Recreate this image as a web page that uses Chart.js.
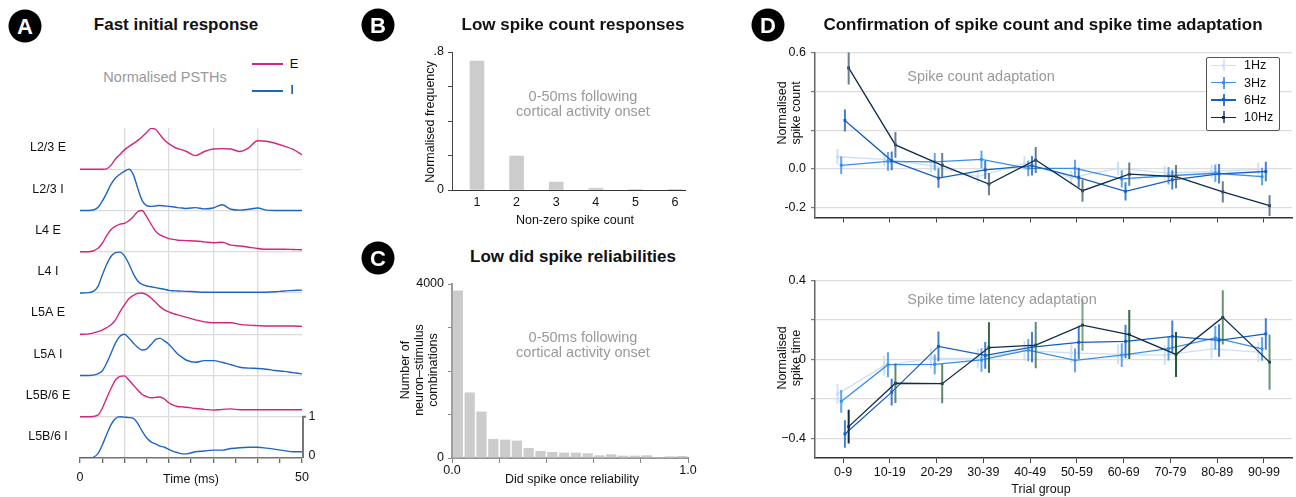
<!DOCTYPE html>
<html>
<head>
<meta charset="utf-8">
<script src="https://cdn.jsdelivr.net/npm/chart.js@4.4.1/dist/chart.umd.min.js"></script>
<style>
body { margin: 0; background: #fff; font-family: "Liberation Sans", Arial, sans-serif; }
#fig { position: relative; width: 1296px; height: 497px; overflow: hidden; }
canvas { position: absolute; }
.t { position: absolute; transform: translate(-50%, -50%); white-space: nowrap; font-size: 12.5px; color: #111; line-height: 14px; }
.h { font-weight: bold; font-size: 17px; }
.g { color: #999; font-size: 14.5px; text-align: center; line-height: 14.5px; }
.r { transform: translate(-50%, -50%) rotate(-90deg); text-align: center; line-height: 14px; }
.c { position: absolute; width: 33px; height: 33px; border-radius: 50%; background: #000; color: #fff;
     font-weight: bold; font-size: 22px; display: flex; align-items: center; justify-content: center;
     transform: translate(-50%, -50%); }
.ln { position: absolute; height: 2px; }
#legD { position: absolute; left: 1206px; top: 57px; width: 72px; height: 72px; border: 1px solid #555;
        border-radius: 2px; background: #fff; }
.lrow { position: absolute; left: 0; width: 100%; height: 0; }
.ll { position: absolute; left: 4px; top: -0.7px; width: 25px; height: 1.4px; }
.le { position: absolute; left: 15.5px; top: -6px; width: 2px; height: 12px; }
.ld { position: absolute; left: 15px; top: -1.5px; width: 3px; height: 3px; }
.lt { position: absolute; left: 37px; top: -8px; font-size: 12.5px; line-height: 16px; color: #111; }
</style>
</head>
<body>
<div id="fig">
  <canvas id="chartA" width="320" height="387" style="left:0px;top:110px"></canvas>
  <canvas id="chartB" width="345" height="195" style="left:355px;top:40px"></canvas>
  <canvas id="chartC" width="345" height="227" style="left:355px;top:270px"></canvas>
  <canvas id="chartD1" width="536" height="190" style="left:760px;top:40px"></canvas>
  <canvas id="chartD2" width="536" height="229" style="left:760px;top:268px"></canvas>

  <div class="c" style="left:25px;top:26px">A</div>
  <div class="c" style="left:378px;top:25px">B</div>
  <div class="c" style="left:378px;top:258px">C</div>
  <div class="c" style="left:768px;top:25px">D</div>

  <div class="t h" style="left:176px;top:25px">Fast initial response</div>
  <div class="t h" style="left:573px;top:25px">Low spike count responses</div>
  <div class="t h" style="left:573px;top:257px">Low did spike reliabilities</div>
  <div class="t h" style="left:1043px;top:25px">Confirmation of spike count and spike time adaptation</div>

  <div class="t g" style="left:165px;top:77px">Normalised PSTHs</div>
  <div class="ln" style="left:252px;top:63px;width:31px;background:#d4247e"></div>
  <div class="ln" style="left:252px;top:89.5px;width:31px;background:#1f66c4"></div>
  <div class="t" style="left:294px;top:64px;font-size:13px">E</div>
  <div class="t" style="left:292px;top:90px;font-size:13px">I</div>
  <div class="t" style="left:191px;top:479px">Time (ms)</div>

  <div class="t r" style="left:430px;top:122px">Normalised frequency</div>
  <div class="t" style="left:575px;top:220px">Non-zero spike count</div>
  <div class="t g" style="left:583px;top:103px">0-50ms following<br>cortical activity onset</div>

  <div class="t r" style="left:419px;top:370px">Number of<br>neuron–stimulus<br>combinations</div>
  <div class="t" style="left:572px;top:479px">Did spike once reliability</div>
  <div class="t g" style="left:583px;top:344px">0-50ms following<br>cortical activity onset</div>

  <div class="t r" style="left:789px;top:113px">Normalised<br>spike count</div>
  <div class="t g" style="left:981px;top:76px">Spike count adaptation</div>
  <div class="t r" style="left:789px;top:358px">Normalised<br>spike time</div>
  <div class="t g" style="left:1002px;top:299px">Spike time latency adaptation</div>
  <div class="t" style="left:1041px;top:489px">Trial group</div>

  <div id="legD"></div>
</div>

<script>
// ---- A: normalised PSTHs ----
const timeMs = [0, 2, 4, 5, 6, 7, 8, 9, 10, 11, 12, 13, 14, 15, 16, 17, 18, 19, 20, 21, 22, 23, 24,
  26, 28, 30, 32, 34, 36, 38, 40, 42, 44, 46, 48, 50];
const layerNames = ['L2/3 E', 'L2/3 I', 'L4 E', 'L4 I', 'L5A E', 'L5A I', 'L5B/6 E', 'L5B/6 I'];
const layerTypes = ['E', 'I', 'E', 'I', 'E', 'I', 'E', 'I'];
const psthL23E = [0, 0, 0, 0, 0.01, 0.1, 0.25, 0.36, 0.47, 0.55, 0.62, 0.70, 0.79, 0.89, 0.99, 0.97, 0.84, 0.71,
  0.62, 0.55, 0.50, 0.47, 0.43, 0.33, 0.43, 0.49, 0.50, 0.49, 0.43, 0.52, 0.69, 0.68, 0.63, 0.56, 0.48, 0.35];
const psthL23I = [0, 0, 0.07, 0.22, 0.42, 0.64, 0.79, 0.88, 0.95, 1.0, 0.87, 0.54, 0.24, 0.12, 0.10, 0.11, 0.12, 0.11,
  0.10, 0.09, 0.07, 0.06, 0.05, 0.07, 0.04, 0.06, 0.14, 0.03, 0.01, 0.03, 0.06, 0.01, 0, 0, 0, 0];
const psthL4E = [0, 0, 0.08, 0.2, 0.39, 0.54, 0.62, 0.67, 0.69, 0.75, 0.85, 0.97, 1.0, 0.85, 0.67, 0.5, 0.41, 0.36,
  0.32, 0.30, 0.28, 0.275, 0.27, 0.26, 0.24, 0.22, 0.23, 0.16, 0.14, 0.11, 0.08, 0.06, 0.06, 0.06, 0.055, 0.05];
const psthL4I = [0, 0.01, 0.15, 0.43, 0.69, 0.89, 0.98, 0.99, 0.90, 0.71, 0.47, 0.29, 0.21, 0.17, 0.15, 0.13, 0.11, 0.09,
  0.065, 0.055, 0.05, 0.045, 0.04, 0.03, 0.02, 0.02, 0.02, 0.02, 0.02, 0.02, 0.02, 0.02, 0.03, 0.05, 0.06, 0.07];
const psthL5AE = [0, 0.01, 0.065, 0.1, 0.16, 0.23, 0.35, 0.54, 0.71, 0.86, 0.94, 0.99, 1.0, 0.96, 0.88, 0.78, 0.67, 0.59,
  0.54, 0.50, 0.47, 0.44, 0.41, 0.35, 0.30, 0.28, 0.28, 0.28, 0.24, 0.22, 0.21, 0.2, 0.2, 0.2, 0.2, 0.19];
const psthL5AI = [0, 0, 0.04, 0.11, 0.3, 0.54, 0.79, 0.95, 1.0, 0.91, 0.79, 0.68, 0.62, 0.64, 0.75, 0.87, 0.9, 0.84,
  0.76, 0.64, 0.52, 0.44, 0.37, 0.32, 0.36, 0.36, 0.32, 0.26, 0.2, 0.18, 0.17, 0.15, 0.12, 0.1, 0.07, 0.04];
const psthL5B6E = [0, 0, 0.04, 0.2, 0.45, 0.69, 0.89, 0.98, 0.99, 0.89, 0.77, 0.65, 0.54, 0.49, 0.46, 0.47, 0.48, 0.43,
  0.34, 0.28, 0.25, 0.24, 0.23, 0.2, 0.18, 0.16, 0.18, 0.19, 0.17, 0.17, 0.17, 0.17, 0.17, 0.17, 0.17, 0.17];
const psthL5B6I = [0, 0, 0.1, 0.31, 0.57, 0.81, 0.96, 1.0, 0.99, 0.98, 0.96, 0.84, 0.65, 0.49, 0.39, 0.34, 0.29, 0.26,
  0.21, 0.16, 0.13, 0.1, 0.1, 0.15, 0.17, 0.19, 0.19, 0.23, 0.25, 0.26, 0.26, 0.24, 0.21, 0.18, 0.15, 0.15];
const psth = [psthL23E, psthL23I, psthL4E, psthL4I, psthL5AE, psthL5AI, psthL5B6E, psthL5B6I];
const timeTicks = [0, 5, 10, 15, 20, 25, 30, 35, 40, 45, 50];

// ---- B: spike count histogram ----
const spikeCounts = [1, 2, 3, 4, 5, 6];
const countFreq = [0.748, 0.197, 0.046, 0.01, 0.003, 0.002];

// ---- C: did-spike reliability histogram ----
const binCentres = [0.025, 0.075, 0.125, 0.175, 0.225, 0.275, 0.325, 0.375, 0.425, 0.475,
  0.525, 0.575, 0.625, 0.675, 0.725, 0.775, 0.825, 0.875, 0.925, 0.975];
const binCounts = [3850, 1507, 1069, 438, 423, 400, 231, 162, 138, 123,
  123, 108, 62, 85, 54, 54, 62, 23, 38, 46];

// ---- D: adaptation across trial groups ----
const trialGroups = ['0-9', '10-19', '20-29', '30-39', '40-49', '50-59', '60-69', '70-79', '80-89', '90-99'];
const freqLabels = ['1Hz', '3Hz', '6Hz', '10Hz'];
const count1Hz = [0.063, 0.049, 0.017, -0.039, 0.029, -0.044, 0.003, -0.02, -0.013, -0.002];
const count3Hz = [0.019, 0.039, 0.037, 0.049, 0.003, 0.003, -0.051, -0.035, -0.022, -0.039];
const count6Hz = [0.25, 0.042, -0.047, -0.005, 0.017, -0.044, -0.115, -0.056, -0.025, -0.013];
const count10Hz = [0.521, 0.124, 0.019, -0.078, 0.046, -0.112, -0.027, -0.039, -0.118, -0.189];
const countErr1Hz = [0.04, 0.035, 0.035, 0.035, 0.035, 0.035, 0.035, 0.035, 0.035, 0.035];
const countErr3Hz = [0.045, 0.048, 0.045, 0.045, 0.04, 0.045, 0.045, 0.045, 0.045, 0.045];
const countErr6Hz = [0.057, 0.048, 0.05, 0.047, 0.05, 0.05, 0.047, 0.05, 0.05, 0.05];
const countErr10Hz = [0.086, 0.066, 0.063, 0.057, 0.067, 0.057, 0.06, 0.06, 0.055, 0.053];
const time1Hz = [-0.176, -0.032, 0.005, 0.005, 0.045, 0.033, 0.025, 0.022, 0.053, 0.037];
const time3Hz = [-0.213, -0.027, -0.025, -0.003, 0.047, -0.005, 0.022, 0.055, 0.109, 0.053];
const time6Hz = [-0.378, -0.166, 0.066, 0.02, 0.062, 0.086, 0.091, 0.117, 0.096, 0.129];
const time10Hz = [-0.341, -0.121, -0.123, 0.060, 0.072, 0.174, 0.126, 0.025, 0.213, -0.014];
const timeErr1Hz = [0.05, 0.05, 0.05, 0.05, 0.05, 0.05, 0.05, 0.05, 0.05, 0.05];
const timeErr3Hz = [0.058, 0.063, 0.05, 0.06, 0.056, 0.06, 0.06, 0.06, 0.06, 0.06];
const timeErr6Hz = [0.07, 0.068, 0.075, 0.068, 0.077, 0.084, 0.085, 0.08, 0.082, 0.08];
const timeErr10Hz = [0.086, 0.1, 0.1, 0.128, 0.117, 0.13, 0.124, 0.114, 0.137, 0.14];

const pink = '#d4247e';
const blue = '#1f66c4';
const freqColors = ['#cde0f5', '#3b8ee8', '#145fc2', '#102a4c'];
const countErrColors = ['rgba(200,222,246,0.9)', 'rgba(59,142,232,0.8)', 'rgba(20,95,194,0.8)', 'rgba(70,92,118,0.8)'];
const timeErrColors = ['rgba(200,222,246,0.9)', 'rgba(59,142,232,0.8)', 'rgba(20,95,194,0.8)',
  ['#102a4c', 'rgba(40,100,60,0.75)', 'rgba(40,100,60,0.75)', 'rgba(20,80,40,0.85)', 'rgba(40,100,60,0.75)',
   'rgba(40,100,60,0.6)', 'rgba(20,80,40,0.85)', 'rgba(20,80,40,0.95)', 'rgba(40,100,60,0.7)', 'rgba(40,100,60,0.7)']];
const dodge = [-0.12, -0.04, 0.04, 0.12];

Chart.defaults.font.family = '"Liberation Sans", Arial, sans-serif';
Chart.defaults.font.size = 12.5;
Chart.defaults.color = '#111';
Chart.defaults.animation = false;
Chart.defaults.responsive = false;
Chart.defaults.plugins.legend.display = false;
Chart.defaults.plugins.tooltip.enabled = false;

function fixTicks(values) { return function (scale) { scale.ticks = values.map(v => ({ value: v })); }; }
function fixHeight(h) { return function (s) { s.height = h; }; }
function fixWidth(w) { return function (s) { s.width = w; }; }
function only(map) {
  return function (v) {
    for (const k in map) if (Math.abs(v - Number(k)) < 1e-9) return map[k];
    return '';
  };
}
const clear = 'rgba(0,0,0,0)';

// row labels and the 0-1 scale bar of panel A
const psthExtras = {
  id: 'psthExtras',
  afterDraw(chart) {
    const { ctx, chartArea } = chart;
    const y = chart.scales.y;
    ctx.save();
    ctx.font = '12.5px "Liberation Sans", Arial, sans-serif';
    ctx.fillStyle = '#111';
    ctx.textAlign = 'center';
    ctx.textBaseline = 'middle';
    layerNames.forEach((name, i) => {
      const base = layerNames.length - 1 - i;
      ctx.fillText(name, chartArea.left - 32, y.getPixelForValue(base + 0.52));
    });
    const x = chartArea.right + 1;
    ctx.strokeStyle = '#777';
    ctx.lineWidth = 2;
    ctx.beginPath();
    ctx.moveTo(x, y.getPixelForValue(0));
    ctx.lineTo(x, y.getPixelForValue(1));
    ctx.lineTo(x + 3, y.getPixelForValue(1));
    ctx.stroke();
    ctx.fillText('1', x + 9, y.getPixelForValue(1));
    ctx.fillText('0', x + 9, y.getPixelForValue(0) - 2);
    ctx.restore();
  }
};

// vertical error bars, drawn right after their own dataset
const errorBars = {
  id: 'errorBars',
  afterDatasetDraw(chart, args) {
    const ds = chart.data.datasets[args.index];
    if (!ds.errors) return;
    const { ctx, chartArea } = chart;
    const y = chart.scales.y;
    ctx.save();
    ctx.beginPath();
    ctx.rect(chartArea.left, chartArea.top, chartArea.right - chartArea.left, chartArea.bottom - chartArea.top);
    ctx.clip();
    ctx.lineWidth = 2;
    args.meta.data.forEach((pt, j) => {
      const v = ds.data[j].y, e = ds.errors[j];
      ctx.strokeStyle = Array.isArray(ds.errorColor) ? ds.errorColor[j] : ds.errorColor;
      ctx.beginPath();
      ctx.moveTo(pt.x, y.getPixelForValue(v - e));
      ctx.lineTo(pt.x, y.getPixelForValue(v + e));
      ctx.stroke();
    });
    ctx.restore();
  }
};

// A
new Chart(document.getElementById('chartA'), {
  type: 'line',
  data: {
    datasets: layerNames.map((name, i) => {
      const base = layerNames.length - 1 - i;
      return {
        label: name,
        data: timeMs.map((t, j) => ({ x: t, y: base + psth[i][j] })),
        borderColor: layerTypes[i] === 'E' ? pink : blue,
        borderWidth: 1.4,
        pointRadius: 0,
        cubicInterpolationMode: 'monotone',
        fill: false
      };
    })
  },
  options: {
    layout: { padding: { left: 80, right: 18, top: 18, bottom: 0 } },
    scales: {
      x: {
        type: 'linear', min: 0, max: 50,
        afterFit: fixHeight(39),
        afterBuildTicks: fixTicks(timeTicks),
        grid: {
          color: c => (c.tick && c.tick.value % 10 === 0 && c.tick.value > 0 && c.tick.value < 50) ? '#dcdcdc' : clear,
          lineWidth: 1.3, tickColor: '#666', tickLength: 5
        },
        border: { color: '#777', width: 1.5 },
        ticks: { autoSkip: false, maxRotation: 0, padding: 7, callback: only({ 0: '0', 50: '50' }) }
      },
      y: {
        min: 0, max: 8,
        afterFit: fixWidth(0),
        afterBuildTicks: fixTicks([0, 1, 2, 3, 4, 5, 6, 7, 8]),
        ticks: { display: false },
        grid: { color: c => (c.tick && c.tick.value < 8) ? '#dcdcdc' : clear, lineWidth: 1.3, drawTicks: false },
        border: { display: false }
      }
    }
  },
  plugins: [psthExtras]
});

// B
new Chart(document.getElementById('chartB'), {
  type: 'bar',
  data: {
    datasets: [{
      data: spikeCounts.map((c, i) => ({ x: c, y: countFreq[i] })),
      backgroundColor: '#cccccc', borderWidth: 0, barThickness: 14
    }]
  },
  options: {
    layout: { padding: { left: 52, right: 15, top: 12, bottom: 20 } },
    scales: {
      x: {
        type: 'linear', min: 0.37, max: 6.25, offset: false,
        afterFit: fixHeight(25),
        afterBuildTicks: fixTicks(spikeCounts),
        grid: { display: false, drawTicks: false, offset: false },
        border: { color: '#333', width: 1 },
        ticks: { autoSkip: false, maxRotation: 0, padding: 5 }
      },
      y: {
        min: 0, max: 0.8,
        afterFit: fixWidth(45),
        afterBuildTicks: fixTicks([0, 0.2, 0.4, 0.6, 0.8]),
        grid: { drawOnChartArea: false, tickLength: 4, tickColor: '#444' },
        border: { color: '#444', width: 1 },
        ticks: { padding: 4, callback: only({ 0.8: '.8', 0: '0' }) }
      }
    }
  }
});

// C
new Chart(document.getElementById('chartC'), {
  type: 'bar',
  data: {
    datasets: [{
      data: binCentres.map((b, i) => ({ x: b, y: binCounts[i] })),
      backgroundColor: '#cccccc', borderWidth: 0, barPercentage: 0.87, categoryPercentage: 1
    }]
  },
  options: {
    layout: { padding: { left: 52, right: 12, top: 14, bottom: 0 } },
    scales: {
      x: {
        type: 'linear', min: 0, max: 1, offset: false,
        afterFit: fixHeight(39),
        afterBuildTicks: fixTicks([0, 0.2, 0.4, 0.6, 0.8, 1]),
        grid: { drawOnChartArea: false, offset: false, tickLength: 5, tickColor: '#888' },
        border: { color: '#999', width: 2 },
        ticks: { autoSkip: false, maxRotation: 0, padding: 0, callback: only({ 0: '0.0', 1: '1.0' }) }
      },
      y: {
        min: 0, max: 4000,
        afterFit: fixWidth(45),
        afterBuildTicks: fixTicks([0, 1000, 2000, 3000, 4000]),
        grid: { drawOnChartArea: false, tickLength: 4, tickColor: '#888' },
        border: { color: '#999', width: 2 },
        ticks: { padding: 4, callback: only({ 4000: '4000', 0: '0' }) }
      }
    }
  }
});

// D
function trialChart(id, means, errs, errColors, yMin, yMax, yTicks, yLabels, showX, padTop, xHeight) {
  return new Chart(document.getElementById(id), {
    type: 'line',
    data: {
      datasets: freqLabels.map((f, s) => ({
        label: f,
        data: means[s].map((v, i) => ({ x: i + dodge[s], y: v })),
        errors: errs[s],
        errorColor: errColors[s],
        borderColor: freqColors[s],
        backgroundColor: freqColors[s],
        borderWidth: 1.3,
        pointRadius: 2,
        pointBorderWidth: 0,
        pointStyle: 'rect',
        tension: 0,
        order: 3 - s
      }))
    },
    options: {
      layout: { padding: { left: 15, right: 2, top: padTop, bottom: 0 } },
      scales: {
        x: {
          type: 'linear', min: -0.6, max: 9.6,
          afterFit: fixHeight(xHeight),
          afterBuildTicks: fixTicks(trialGroups.map((g, i) => i)),
          grid: { drawOnChartArea: false, tickLength: 5, tickColor: '#444' },
          border: { color: '#333', width: 1.5 },
          ticks: { autoSkip: false, maxRotation: 0, padding: 2, callback: v => showX ? trialGroups[v] : '' }
        },
        y: {
          min: yMin, max: yMax,
          afterFit: fixWidth(40),
          afterBuildTicks: fixTicks(yTicks),
          grid: { color: '#dddddd', lineWidth: 1.2, tickLength: 4, tickColor: '#777' },
          border: { color: '#666', width: 1.5 },
          ticks: { padding: 5, callback: only(yLabels) }
        }
      }
    },
    plugins: [errorBars]
  });
}

trialChart('chartD1',
  [count1Hz, count3Hz, count6Hz, count10Hz],
  [countErr1Hz, countErr3Hz, countErr6Hz, countErr10Hz],
  countErrColors, -0.25, 0.6, [-0.2, 0, 0.2, 0.4, 0.6], { 0.6: '0.6', 0: '0.0', '-0.2': '-0.2' }, false, 12, 10);

trialChart('chartD2',
  [time1Hz, time3Hz, time6Hz, time10Hz],
  [timeErr1Hz, timeErr3Hz, timeErr6Hz, timeErr10Hz],
  timeErrColors, -0.5, 0.4, [-0.4, -0.2, 0, 0.2, 0.4], { 0.4: '0.4', 0: '0', '-0.4': '\u22120.4' }, true, 11, 39);

// legend of panel D
const legendErr = ['#d6e6f8', '#5aa0ee', '#3a78cc', '#5b6f86'];
const leg = document.getElementById('legD');
freqLabels.forEach((f, s) => {
  const row = document.createElement('div');
  row.className = 'lrow';
  row.style.top = (7.3 + s * 17.3) + 'px';
  row.innerHTML = '<span class="ll" style="background:' + freqColors[s] + '"></span>' +
    '<span class="le" style="background:' + legendErr[s] + '"></span>' +
    '<span class="ld" style="background:' + freqColors[s] + '"></span>' +
    '<span class="lt">' + f + '</span>';
  leg.appendChild(row);
});
</script>
</body>
</html>
